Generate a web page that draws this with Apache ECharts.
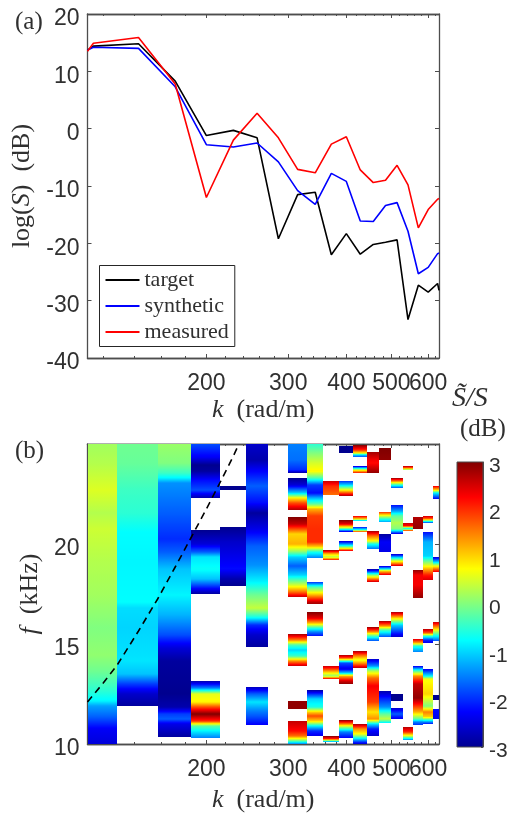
<!DOCTYPE html>
<html><head><meta charset="utf-8">
<style>html,body{margin:0;padding:0;background:#fff}#c{width:511px;height:814px}</style>
<script src="https://cdn.jsdelivr.net/npm/echarts@6/dist/echarts.min.js"></script>
</head><body><div id="c"></div>
<script>
// Panel (a): spectra
const kLine = [111,114.3,142.9,171.4,200,228.6,257.1,285.7,314.3,342.9,371.4,400,428.6,457.1,485.7,514.3,542.9,571.4,600,628.6,633];
const target = [13.7,14.4,14.8,8.3,-1.2,-0.3,-1.6,-19.2,-11.5,-11.1,-22,-18.3,-21.9,-20.2,-19.8,-19.4,-33.3,-27.3,-28.5,-27,-28.2];
const synthetic = [13.7,14.2,14,7.3,-2.8,-3.2,-2.5,-5.8,-10.8,-13.2,-7.8,-9.2,-16.1,-16.2,-13.4,-12.9,-17.9,-25.3,-24.2,-21.8,-21.7];
const measured = [13.5,14.9,15.9,7.8,-12,-2,2.7,-1.6,-7.1,-7.7,-2.7,-1.4,-7.2,-9.4,-9,-6.4,-9.8,-17.3,-14.1,-12.3,-12.2];

// Panel (b): dispersion curve
const kDisp = [111,120,128.6,142.9,157.1,171.4,185.7,200,214.3,228.6,235];
const fDisp = [12.1,13.05,13.95,15.65,17.25,18.85,20.35,21.75,23.1,24.4,25];

// Axis ticks
const kMajor = [200,300,400,500,600];
const kLabelsA = [200,300,400,500];
const kLabelsB = [600];
const kMinor = [120,140,160,180,220,240,260,280,320,340,360,380,420,440,460,480,520,540,560,580,620];
const sLabels = [-40,-30,-20,-10,0,10,20];
const fLabels = [10,15,20];
const barTicks = [-3,-2,-1,0,1,2,3];

// Panel (b): column edges in k, and for each column its bands of [f, dB] read from top to bottom
const kEdges = [111,128.6,157.1,185.7,214.3,242.9,271.4,300,328.6,357.1,385.7,414.3,442.9,471.4,500,528.6,557.1,585.7,614.3,633];
const col0 = [[[25,0.2],[24.04,0.3],[22.72,0.55],[21.57,0.3],[20.74,0.45],[19.09,0.3],[17.44,0.2],[15.79,0],[14.47,0.1],[13.65,-0.1],[12.66,-0.5],[12.16,-0.8],[11.91,-1.3],[11.34,-1.7],[10.76,-2.3],[10,-2.5]]];
const col1 = [[[25,-0.1],[24.04,-0.15],[22.72,-0.4],[21.57,-0.5],[20.58,-0.75],[19.09,-0.8],[17.11,-0.75],[16.78,-0.95],[15.79,-1],[14.14,-0.9],[13.48,-1.1],[12.99,-1.9],[12.49,-2.6],[11.91,-2.9]]];
const col2 = [[[25,0.15],[24.04,0],[23.55,-0.4],[23.3,-0.8],[23.05,-1.4],[21.57,-1.7],[20.25,-2],[19.6,-1.7],[18.76,-1.1],[17.44,-0.8],[16.45,-1.2],[15.46,-1.8],[14.8,-2.5],[14.14,-2.9],[12.49,-3],[11.83,-2.8],[11.5,-1.9],[11.25,-1.7],[11,-2.4],[10.35,-2.9]]];
const col3 = [
 [[25,-1.8],[24.37,-2.3],[23.96,-3],[23.63,-2.9],[23.2,-2.2],[22.72,-1.8],[22.31,-2.8]],
 [[20.69,-3],[20,-2.5],[19.59,-1.7],[19.34,-0.9],[18.76,-0.7],[18.27,-1.1],[17.94,-1.8],[17.52,-2.9]],
 [[13.15,-2.8],[12.82,-1.5],[12.49,0.6],[12.08,0.8],[11.83,1.8],[11.5,3],[11.17,2],[10.92,-0.2],[10.6,-0.9],[10.31,-1.5]]];
const col4 = [
 [[22.89,-3],[22.69,-3]],
 [[20.86,-3],[20.08,-2.6],[18.76,-2.2],[18.27,-2.8],[17.89,-3]]];
const col5 = [
 [[25,-2.6],[24.2,-2.8],[23.71,-2.3],[22.89,-1.7],[22.06,-2.2],[21.57,-2.9],[20.74,-2.4],[19.92,-1.7],[18.93,-1.4],[18.1,-0.8],[17.44,-0.1],[16.78,0.4],[16.37,-0.6],[15.96,-2],[15.46,-2.6],[14.83,-2.9]],
 [[12.87,-2.7],[12.49,-1.7],[12.08,-0.9],[11.67,-1.5],[11.34,-1.8],[10.96,-2.3]]];
const col6 = [];
const col7 = [
 [[25,-1.5],[24.2,-1.6],[23.71,-2],[23.54,-2.9]],
 [[23.31,-3],[22.97,-2.5],[22.56,-1],[22.31,0.8],[22.06,1.8],[21.73,2.6],[21.68,2.7]],
 [[21.33,3],[20.99,2.6],[20.74,1.8],[20.49,1],[20,1.2],[19.67,0.2],[19.34,-1],[18.92,-1.7],[18.43,-1],[18.02,0.3],[17.6,1.6],[17.37,2.6]],
 [[15.49,2.8],[15.21,1.5],[14.96,-0.3],[14.72,-1],[14.39,-0.4],[14.14,1.4],[13.91,2.6]],
 [[12.13,2.9],[11.73,2.9]],
 [[11.14,2.6],[10.67,2.2],[10.38,1.6],[10.18,0.2],[10.01,-1.5]]];
const col8 = [
 [[25,-0.5],[24.53,0],[24.04,0.5],[23.63,0.8],[23.3,-0.3],[22.97,-1.9],[22.56,-2.2],[22.31,-1.2],[21.98,-0.2],[21.73,1.2],[21.4,1.9],[20.74,2],[20.08,2],[19.83,1],[19.58,-0.6],[19.32,-1.5]],
 [[18.12,-2],[17.85,-0.3],[17.52,1],[17.37,1.6],[17.11,2.6],[16.98,2.8]],
 [[16.58,3],[16.28,2.4],[16.04,1.2],[15.79,-0.5],[15.62,-1.5],[15.41,-2.2]],
 [[12.72,-2.9],[12.49,-2],[12.24,-1],[11.83,-0.6],[11.58,1],[11.42,1.8],[11.17,1],[10.92,-0.8],[10.67,-2],[10.39,-2.4]]];
const col9 = [
 [[23.17,2.6],[22.88,2],[22.44,1.6]],
 [[19.7,2.9],[19.5,1.1],[19.34,0.3],[19.2,2.2]],
 [[13.91,2.6],[13.73,1.9],[13.56,0.8],[13.4,0.1],[13.23,2.4]],
 [[10.39,3],[10.26,2],[10.18,0.8],[10.1,-1.6]]];
const col10 = [
 [[24.9,-3],[24.55,-3]],
 [[23.17,-2],[22.97,-1],[22.75,0.4],[22.55,1.8],[22.39,2.8]],
 [[21.19,3],[21.02,2.4],[20.82,0.3],[20.61,-2.6]],
 [[20.15,-2.6],[19.96,-1],[19.8,0.5],[19.67,2.5]],
 [[14.45,2.8],[14.3,1.8],[14.06,-1.8],[13.73,-2.4],[13.56,-1],[13.4,1.2],[13.15,2.5],[12.98,2.9]],
 [[11.19,3],[11,1.5],[10.84,0.2],[10.59,-1.5],[10.31,-2.3]]];
const col11 = [
 [[24.95,3],[24.7,2],[24.57,0.8],[24.45,-1],[24.37,-1.8]],
 [[23.91,-2.7],[23.79,-1],[23.68,0.6],[23.54,2.2]],
 [[21.38,2.4],[21.23,1],[21.13,-1.4]],
 [[20.84,-2.2],[20.72,-0.5],[20.61,2.2]],
 [[14.65,2.8],[14.47,1.7],[14.22,0.6],[14.01,1.6],[13.81,2.7]],
 [[11,2.8],[10.76,1.4],[10.51,0.7],[10.26,-1],[10.01,-2.6]]];
const col12 = [
 [[24.6,2.8],[24.2,2.3],[24.04,2.2],[23.56,2.9]],
 [[20.64,2.8],[20.41,1.6],[20.16,0.7],[20,-0.6],[19.75,-1.6]],
 [[18.76,-2.9],[18.6,-1.6],[18.43,0],[18.26,1.5],[18.12,2.6]],
 [[15.84,2.9],[15.62,1.4],[15.38,-0.3],[15.16,-1.8]],
 [[14.26,-2.6],[13.89,-1.4],[13.64,0.3],[13.32,1.6],[12.9,2.3],[12.08,1.9],[11.58,0.9],[11.25,1.4],[11,-0.9],[10.76,-2.1],[10.39,-2.6]]];
const col13 = [
 [[24.8,3],[24.2,2.9]],
 [[21.58,2],[21.4,0.5],[21.23,-0.5],[21.09,-1.3]],
 [[20.49,-2.9],[20.08,-2.3],[19.6,-2.4]],
 [[18.9,-2.6],[18.76,-0.8],[18.63,1],[18.46,2.5]],
 [[16.14,2.8],[15.92,1.4],[15.71,-0.3],[15.36,-1.8]],
 [[12.67,-2.8],[12.32,-2.1],[11.83,-1.4],[11.5,-0.2],[11.25,0.4],[11.04,-0.9]]];
const col14 = [
 [[23.31,2.9],[23.13,1.6],[22.97,-0.5],[22.82,-1.8]],
 [[21.93,-2.2],[21.65,-1.3],[21.4,-0.2],[21.07,0.3],[20.74,0],[20.52,-2.5]],
 [[19.5,-2.7],[19.34,-1.2],[19.17,0.6],[19,1.7],[18.9,2.6]],
 [[16.58,2.8],[16.28,1],[15.95,-1],[15.34,-2.6]],
 [[12.52,-3],[12.13,-3]],
 [[11.78,-2.6],[11.5,-1.7],[11.24,-2.4]]];
const col15 = [
 [[23.91,2.8],[23.79,1.6],[23.68,-0.1]],
 [[21.04,2.6],[20.9,2.2],[20.82,-0.5],[20.74,-0.7],[20.67,2.4]],
 [[10.84,2.7],[10.59,2],[10.38,0.5],[10.21,-1.5]]];
const col16 = [
 [[21.33,2.7],[20.74,2.9]],
 [[18.71,2.9],[18.43,2.3],[17.93,2.3],[17.32,2.9]],
 [[15.25,2.5],[15.05,1.2],[14.88,-0.5],[14.6,-1.5]],
 [[13.91,-2.4],[13.64,-0.3],[13.4,1.4],[12.98,2.6],[12.32,2.9],[11.99,2.2],[11.58,1.2],[11.25,-0.2],[11.09,-1.5],[10.95,-2]]];
const col17 = [
 [[21.38,2.6],[21.27,1.6],[21.15,-0.3],[21.05,-2]],
 [[20.59,-2.2],[20.08,-1.2],[19.42,-1],[19.09,0],[18.76,1.2],[18.43,2.1],[18.22,2.5]],
 [[15.74,2.7],[15.54,1.7],[15.38,-0.4],[15.21,-2],[15.05,-2.4]],
 [[13.76,-2.4],[13.4,-0.8],[13.23,0.7],[12.49,1],[12.16,0.4],[11.91,0],[11.58,1.5],[11.33,1],[11.17,-1],[11,-2.2]]];
const col18 = [
 [[22.92,2.4],[22.72,1],[22.55,-0.8],[22.27,-2.3]],
 [[19.35,-2.6],[19.12,-1],[18.92,0.7],[18.76,1.6],[18.61,2.4]],
 [[16.09,2.6],[15.79,1.2],[15.46,-0.5],[15.16,-1.8]],
 [[12.47,-3],[12.22,-3]],
 [[11.73,-2.2],[11.24,-2.4]]];
const columns = [col0,col1,col2,col3,col4,col5,col6,col7,col8,col9,col10,col11,col12,col13,col14,col15,col16,col17,col18];

// Colour bar
const barEnds = [3,-3];

const jetColors = ['#00008f','#0000ff','#0080ff','#00ffff','#80ff80','#ffff00','#ff8000','#ff0000','#800000'];
function jet(v){ return echarts.color.lerp(Math.min(1,Math.max(0,(v+3)/6)), jetColors); }

const heatRows = [];
columns.forEach((bands,i)=>bands.forEach(b=>{
  for(let j=0;j+1<b.length;j++) heatRows.push([kEdges[i],kEdges[i+1],b[j][0],b[j+1][0],b[j][1],b[j+1][1]]);
}));

function renderCell(params,api){
  const p0=api.coord([api.value(0),api.value(2)]), p1=api.coord([api.value(1),api.value(3)]);
  const v0=api.value(4), v1=api.value(5), stops=[], n=16;
  for(let i=0;i<=n;i++) stops.push({offset:i/n,color:jet(v0+(v1-v0)*i/n)});
  const x0=Math.round(p0[0]),x1=Math.round(p1[0]),y0=Math.round(p0[1]),y1=Math.round(p1[1]);
  return {type:'rect',shape:{x:x0,y:y0,width:x1-x0,height:Math.max(1,y1-y0)},
    style:{fill:new echarts.graphic.LinearGradient(0,0,0,1,stops)}};
}

const AX='#4d4d4d', TXT='#303030', SANS='"Liberation Sans",Arial,sans-serif', SERIF='"Liberation Serif",serif';
const line={show:true,onZero:false,lineStyle:{color:AX,width:1.3}};
const axisName={fontFamily:SERIF,fontSize:26,color:TXT,rich:{i:{fontFamily:SERIF,fontStyle:'italic',fontSize:26,color:TXT}}};
const tickLabel={fontFamily:SANS,fontSize:23,color:TXT};

function kAxes(g,name,nameGap){
  const base={type:'log',logBase:10,min:111,max:633,gridIndex:g,splitLine:{show:false},minorTick:{show:false},minorSplitLine:{show:false},axisLine:line};
  const labelAxis=vals=>({...tickLabel,margin:14,customValues:vals,hideOverlap:false,showMinLabel:true,showMaxLabel:true,formatter:v=>String(Math.round(v))});
  return [
   {...base,position:'bottom',name,nameLocation:'middle',nameGap,nameTextStyle:axisName,
    axisTick:{show:true,inside:true,length:4,lineStyle:{color:AX},customValues:kMajor},
    axisLabel:labelAxis(kLabelsA)},
   {...base,position:'bottom',axisTick:{show:true,inside:true,length:2,lineStyle:{color:AX},customValues:kMinor},axisLabel:labelAxis(kLabelsB)},
   {...base,position:'top',axisTick:{show:true,inside:true,length:4,lineStyle:{color:AX},customValues:kMajor},axisLabel:{show:false}},
   {...base,position:'top',axisTick:{show:true,inside:true,length:2,lineStyle:{color:AX},customValues:kMinor},axisLabel:{show:false}}
  ];
}
function vAxes(g,min,max,interval,name,nameGap,labels){
  const base={type:'value',gridIndex:g,min,max,interval,splitLine:{show:false},axisLine:line,axisTick:{show:true,inside:true,length:4,lineStyle:{color:AX}}};
  return [
   {...base,position:'left',name,nameLocation:'middle',nameGap,nameTextStyle:axisName,
    axisLabel:{...tickLabel,margin:8,verticalAlign:'top',lineHeight:10,showMinLabel:true,showMaxLabel:true,customValues:labels,formatter:v=>String(v)}},
   {...base,position:'right',axisLabel:{show:false}}
  ];
}

const chart=echarts.init(document.getElementById('c'),null,{renderer:'canvas'});
const lineSeries=(name,vals,color)=>({name,type:'line',xAxisIndex:0,yAxisIndex:0,symbol:'none',showSymbol:false,
  data:kLine.map((k,i)=>[k,vals[i]]),lineStyle:{color,width:1.6},itemStyle:{color},clip:true});

chart.setOption({
 animation:false,backgroundColor:'#fff',
 grid:[
  {left:87.5,top:14,width:351.5,height:344},
  {left:87.5,top:444,width:351.5,height:303},
  {left:457,top:462,width:26,height:285}
 ],
 xAxis:[...kAxes(0,'{i|k}  (rad/m)',39),...kAxes(1,'{i|k}  (rad/m)',43),
  {type:'value',gridIndex:2,min:0,max:1,show:false}],
 yAxis:[...vAxes(0,-40,20,10,'log({i|S})  (dB)',44,sLabels),...vAxes(1,10,25,5,'{i|f}  (kHz)',44,fLabels),
  {type:'value',gridIndex:2,position:'right',min:-3,max:3,interval:1,splitLine:{show:false},
   axisLine:{show:true,onZero:false,lineStyle:{color:AX,width:1}},
   axisTick:{show:true,inside:true,length:2,lineStyle:{color:AX}},
   axisLabel:{fontFamily:SANS,fontSize:21,color:TXT,margin:6,verticalAlign:'top',lineHeight:8,showMinLabel:true,showMaxLabel:true,customValues:barTicks,formatter:v=>String(v)}},
  {type:'value',gridIndex:2,position:'left',min:-3,max:3,show:false}],
 legend:{show:true,orient:'vertical',left:99.5,top:265.5,data:['target','synthetic','measured'],
  icon:'rect',itemWidth:34,itemHeight:2,itemGap:4,padding:[3.5,6,3.5,6],borderColor:'#262626',borderWidth:1,backgroundColor:'#fff',
  textStyle:{fontFamily:SERIF,fontSize:22,color:TXT}},
 series:[
  lineSeries('target',target,'#000000'),
  lineSeries('synthetic',synthetic,'#0000ff'),
  lineSeries('measured',measured,'#ff0000'),
  {type:'custom',name:'heat',xAxisIndex:4,yAxisIndex:2,renderItem:renderCell,data:heatRows,encode:{x:[0,1],y:[2,3]},silent:true,z:2},
  {type:'line',name:'dispersion',xAxisIndex:4,yAxisIndex:2,symbol:'none',data:kDisp.map((k,i)=>[k,fDisp[i]]),
   lineStyle:{color:'#000',width:1.6,type:[7,5]},z:5},
  {type:'custom',name:'bar',xAxisIndex:8,yAxisIndex:4,renderItem(params,api){
     const a=api.coord([0,api.value(0)]),b=api.coord([1,api.value(1)]),stops=[];
     for(let i=0;i<=48;i++){const t=i/48;stops.push({offset:t,color:jet(api.value(0)+(api.value(1)-api.value(0))*t)});}
     return {type:'rect',shape:{x:a[0],y:a[1],width:b[0]-a[0],height:b[1]-a[1]},style:{fill:new echarts.graphic.LinearGradient(0,0,0,1,stops),stroke:AX,lineWidth:1}};
   },data:[[barEnds[0],barEnds[1]]],encode:{y:[0,1]},silent:true}
 ],
 graphic:[
  {type:'text',left:15,top:10,style:{text:'(a)',font:'25px '+SERIF,fill:TXT}},
  {type:'text',left:15,top:439,style:{text:'(b)',font:'25px '+SERIF,fill:TXT}},
  {type:'text',left:452,top:385,style:{text:'S\u0303/S',font:'italic 28px '+SERIF,fill:TXT}},
  {type:'text',left:460,top:417,style:{text:'(dB)',font:'25px '+SERIF,fill:TXT}}
 ]
});
</script></body></html>
